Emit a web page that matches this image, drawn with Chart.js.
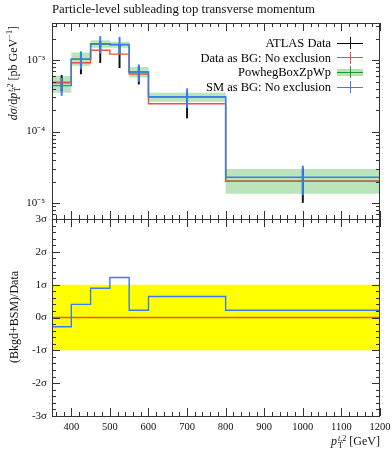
<!DOCTYPE html>
<html>
<head>
<meta charset="utf-8">
<script src="https://cdn.jsdelivr.net/npm/chart.js@4.4.1/dist/chart.umd.min.js"></script>
<style>
body { margin: 0; background: #fff; font-family: 'Liberation Serif', serif; }
#wrap { position: relative; width: 392px; height: 450px; overflow: hidden; }
#wrap canvas { position: absolute; left: 0; top: 0; }
.txt { position: absolute; white-space: nowrap; color: #111; }
.ss { display: inline-block; vertical-align: -0.4em; line-height: 0.85; font-size: 0.68em; text-align: left; margin-left: 1px; }
.rot { transform: translate(-50%, -50%) rotate(-90deg); }
.leg { position: absolute; right: 61px; font-size: 12.5px; white-space: nowrap; transform: translateY(-50%); }
.sym { position: absolute; left: 337px; width: 26px; height: 12px; transform: translateY(-50%); }
.sym .h { position: absolute; left: 0; right: 0; top: 5.5px; height: 1.3px; }
.sym .v { position: absolute; left: 12.5px; width: 1.3px; top: 0; bottom: 0; }
.sym .b { position: absolute; left: 0; right: 0; top: 2.5px; height: 7px; background: rgba(90,190,90,0.45); }
</style>
</head>
<body>
<div id="wrap">
  <canvas id="mainChart" width="392" height="450"></canvas>
  <canvas id="ratioChart" width="392" height="450"></canvas>

  <div class="txt" style="left:52px; top:2px; font-size:12.8px;">Particle-level subleading top transverse momentum</div>

  <div class="txt rot" style="left:14px; top:73px; font-size:12px;"><i>d&sigma;</i>/d<i>p</i><span class="ss"><i>t</i>,2<br>T</span> [pb GeV<sup style="font-size:0.7em">&minus;1</sup>]</div>
  <div class="txt rot" style="left:14px; top:317px; font-size:12px;">(Bkgd+BSM)/Data</div>
  <div class="txt" style="right:12px; top:434px; font-size:12px;"><i>p</i><span class="ss"><i>t</i>,2<br>T</span> [GeV]</div>

  <div class="leg" style="top:43px;">ATLAS Data</div>
  <div class="sym" style="top:43px;"><div class="h" style="background:#000"></div><div class="v" style="background:#000"></div></div>
  <div class="leg" style="top:57.5px;">Data as BG: No exclusion</div>
  <div class="sym" style="top:57.5px;"><div class="h" style="background:#f0503a"></div><div class="v" style="background:#f0503a"></div></div>
  <div class="leg" style="top:72px;">PowhegBoxZpWp</div>
  <div class="sym" style="top:72px;"><div class="b"></div><div class="h" style="background:#1f9a2a"></div><div class="v" style="background:#1f9a2a"></div></div>
  <div class="leg" style="top:87px;">SM as BG: No exclusion</div>
  <div class="sym" style="top:87px;"><div class="h" style="background:#3b7df0"></div><div class="v" style="background:#3b7df0"></div></div>
</div>

<script>
// bin edges in pT [GeV]
const binEdges = [350, 400, 450, 500, 550, 600, 800, 1200];

// ATLAS data, dsigma/dpT [pb/GeV]
const dataVals = [4.9e-4, 9.2e-4, 1.37e-3, 1.21e-3, 6.4e-4, 2.45e-4, 2.02e-5];
const dataErr = [1.2e-4, 2.8e-4, 4.5e-4, 4.3e-4, 1.8e-4, 9.0e-5, 1.0e-5];

// Data as BG: No exclusion
const dataBgVals = [4.9e-4, 9.2e-4, 1.37e-3, 1.21e-3, 6.4e-4, 2.45e-4, 2.02e-5];

// PowhegBoxZpWp central + band
const powhegVals = [4.8e-4, 1.03e-3, 1.68e-3, 1.64e-3, 6.8e-4, 3.05e-4, 2.02e-5];
const powhegUp = [5.97e-4, 1.28e-3, 1.9e-3, 1.8e-3, 8.0e-4, 3.49e-4, 3.0e-5];
const powhegDown = [3.49e-4, 8.3e-4, 1.49e-3, 1.49e-3, 5.7e-4, 2.62e-4, 1.35e-5];

// SM as BG: No exclusion
const smBgVals = [4.4e-4, 1.03e-3, 1.69e-3, 1.66e-3, 6.8e-4, 3.07e-4, 2.3e-5];
const smBgErr = [1.2e-4, 2.8e-4, 4.5e-4, 4.3e-4, 1.8e-4, 9.0e-5, 1.0e-5];

// ratio panel, in sigma
const smPull = [-0.28, 0.40, 0.89, 1.22, 0.22, 0.64, 0.22];
const dataPull = [0, 0, 0, 0, 0, 0, 0];
const bandHalf = [1, 1, 1, 1, 1, 1, 1];

const logTickVals = [1e-5, 1e-4, 1e-3];
const expLabels = { '-5': '10\u207B\u2075', '-4': '10\u207B\u2074', '-3': '10\u207B\u00B3' };
const sigmaTicks = [-3, -2, -1, 0, 1, 2, 3];
const xTickVals = [400, 500, 600, 700, 800, 900, 1000, 1100, 1200];

const RED = '#f0503a';
const BLUE = '#3b7df0';
const GREEN = '#1f9a2a';
const FONT = 'Liberation Serif';

// histogram as step points: one point per left edge plus the last right edge
function steps(vals) {
    return binEdges.map((e, i) => ({ x: e, y: vals[Math.min(i, vals.length - 1)] }));
}
function centers() {
    return binEdges.slice(0, -1).map((e, i) => (e + binEdges[i + 1]) / 2);
}
function errBars(vals, errs) {
    return centers().map((c, i) => ({ x: c, y: [vals[i] - errs[i], vals[i] + errs[i]] }));
}

function stepLine(label, vals, color, order, extra) {
    return Object.assign({
        type: 'line', label: label, data: steps(vals), stepped: 'before',
        borderColor: color, borderWidth: 1.4, pointRadius: 0, fill: false, order: order
    }, extra || {});
}
function errSet(label, vals, errs, color, order) {
    return {
        type: 'bar', label: label, data: errBars(vals, errs),
        backgroundColor: color, borderWidth: 0, barThickness: 1.3, grouped: false, order: order
    };
}

// frame and inward ticks on all four sides
const frameTicks = {
    id: 'frameTicks',
    afterDatasetsDraw(chart, args, opts) {
        const { ctx, chartArea: a, scales } = chart;
        ctx.save();
        ctx.strokeStyle = '#333';
        ctx.lineWidth = 1;
        ctx.strokeRect(a.left + 0.5, a.top + 0.5, a.width - 1, a.height);
        const seg = (x1, y1, x2, y2) => { ctx.beginPath(); ctx.moveTo(x1, y1); ctx.lineTo(x2, y2); ctx.stroke(); };
        for (let v = 360; v <= 1200; v += 20) {
            const px = Math.round(scales.x.getPixelForValue(v)) + 0.5;
            const len = v % 100 === 0 ? 8 : 4;
            seg(px, a.bottom, px, a.bottom - len);
            seg(px, a.top, px, a.top + len);
        }
        opts.yTicks.forEach(t => {
            const py = Math.round(scales.y.getPixelForValue(t.v)) + 0.5;
            if (py < a.top - 0.5 || py > a.bottom + 0.5) return;
            const len = t.major ? 8 : 4;
            seg(a.left, py, a.left + len, py);
            seg(a.right, py, a.right - len, py);
        });
        ctx.restore();
    }
};

const logTicks = [];
for (let k = -6; k <= -3; k++) {
    for (let m = 1; m <= 9; m++) logTicks.push({ v: m * Math.pow(10, k), major: m === 1 });
}
const linTicks = [];
for (let i = -15; i <= 15; i++) linTicks.push({ v: i / 5, major: i % 5 === 0 });

// main panel
const mainChart = new Chart(document.getElementById('mainChart'), {
    type: 'line',
    data: {
        datasets: [
            stepLine('PowhegBoxZpWp up', powhegUp, 'rgba(0,0,0,0)', 9, { borderWidth: 0, fill: '+1', backgroundColor: 'rgba(90,190,90,0.42)' }),
            stepLine('PowhegBoxZpWp down', powhegDown, 'rgba(0,0,0,0)', 9, { borderWidth: 0 }),
            stepLine('PowhegBoxZpWp', powhegVals, GREEN, 8),
            errSet('ATLAS Data', dataVals, dataErr, '#111', 6),
            stepLine('Data as BG: No exclusion', dataBgVals, RED, 5),
            stepLine('SM as BG: No exclusion', smBgVals, BLUE, 2),
            errSet('SM as BG err', smBgVals, smBgErr, BLUE, 1)
        ]
    },
    options: {
        responsive: false,
        animation: false,
        layout: { padding: { top: 23, right: 12, bottom: 231, left: 0 } },
        plugins: { legend: { display: false }, tooltip: { enabled: false }, frameTicks: { yTicks: logTicks } },
        scales: {
            x: { type: 'linear', min: 350, max: 1200, offset: false, display: false },
            y: {
                type: 'logarithmic', min: 6.0e-6, max: 3.3e-3,
                afterBuildTicks: s => { s.ticks = logTickVals.map(v => ({ value: v })); },
                afterFit: s => { s.width = 52; },
                grid: { display: false, drawTicks: false },
                border: { display: false },
                ticks: {
                    padding: 7, color: '#111', font: { family: FONT, size: 11 },
                    callback: v => expLabels[String(Math.round(Math.log10(v)))] || ''
                }
            }
        }
    },
    plugins: [frameTicks]
});

// ratio panel
const ratioChart = new Chart(document.getElementById('ratioChart'), {
    type: 'line',
    data: {
        datasets: [
            stepLine('band up', bandHalf, 'rgba(0,0,0,0)', 9, { borderWidth: 0, fill: '+1', backgroundColor: '#ffff00' }),
            stepLine('band down', bandHalf.map(v => -v), 'rgba(0,0,0,0)', 9, { borderWidth: 0 }),
            stepLine('Data as BG', dataPull, RED, 5),
            stepLine('SM as BG', smPull, BLUE, 2)
        ]
    },
    options: {
        responsive: false,
        animation: false,
        layout: { padding: { top: 219, right: 12, bottom: 0, left: 0 } },
        plugins: { legend: { display: false }, tooltip: { enabled: false }, frameTicks: { yTicks: linTicks } },
        scales: {
            x: {
                type: 'linear', min: 350, max: 1200, offset: false,
                afterBuildTicks: s => { s.ticks = xTickVals.map(v => ({ value: v })); },
                afterFit: s => { s.height = 34; s.paddingRight = 0; s.paddingLeft = 0; },
                grid: { display: false, drawTicks: false },
                border: { display: false },
                ticks: { padding: 5, color: '#111', maxRotation: 0, font: { family: FONT, size: 10.5 }, callback: v => String(v) }
            },
            y: {
                type: 'linear', min: -3, max: 3,
                afterBuildTicks: s => { s.ticks = sigmaTicks.map(v => ({ value: v })); },
                afterFit: s => { s.width = 52; },
                grid: { display: false, drawTicks: false },
                border: { display: false },
                ticks: {
                    padding: 5, color: '#111', font: { family: FONT, size: 11 },
                    callback: v => v + '\u03C3'
                }
            }
        }
    },
    plugins: [frameTicks]
});
</script>
</body>
</html>
